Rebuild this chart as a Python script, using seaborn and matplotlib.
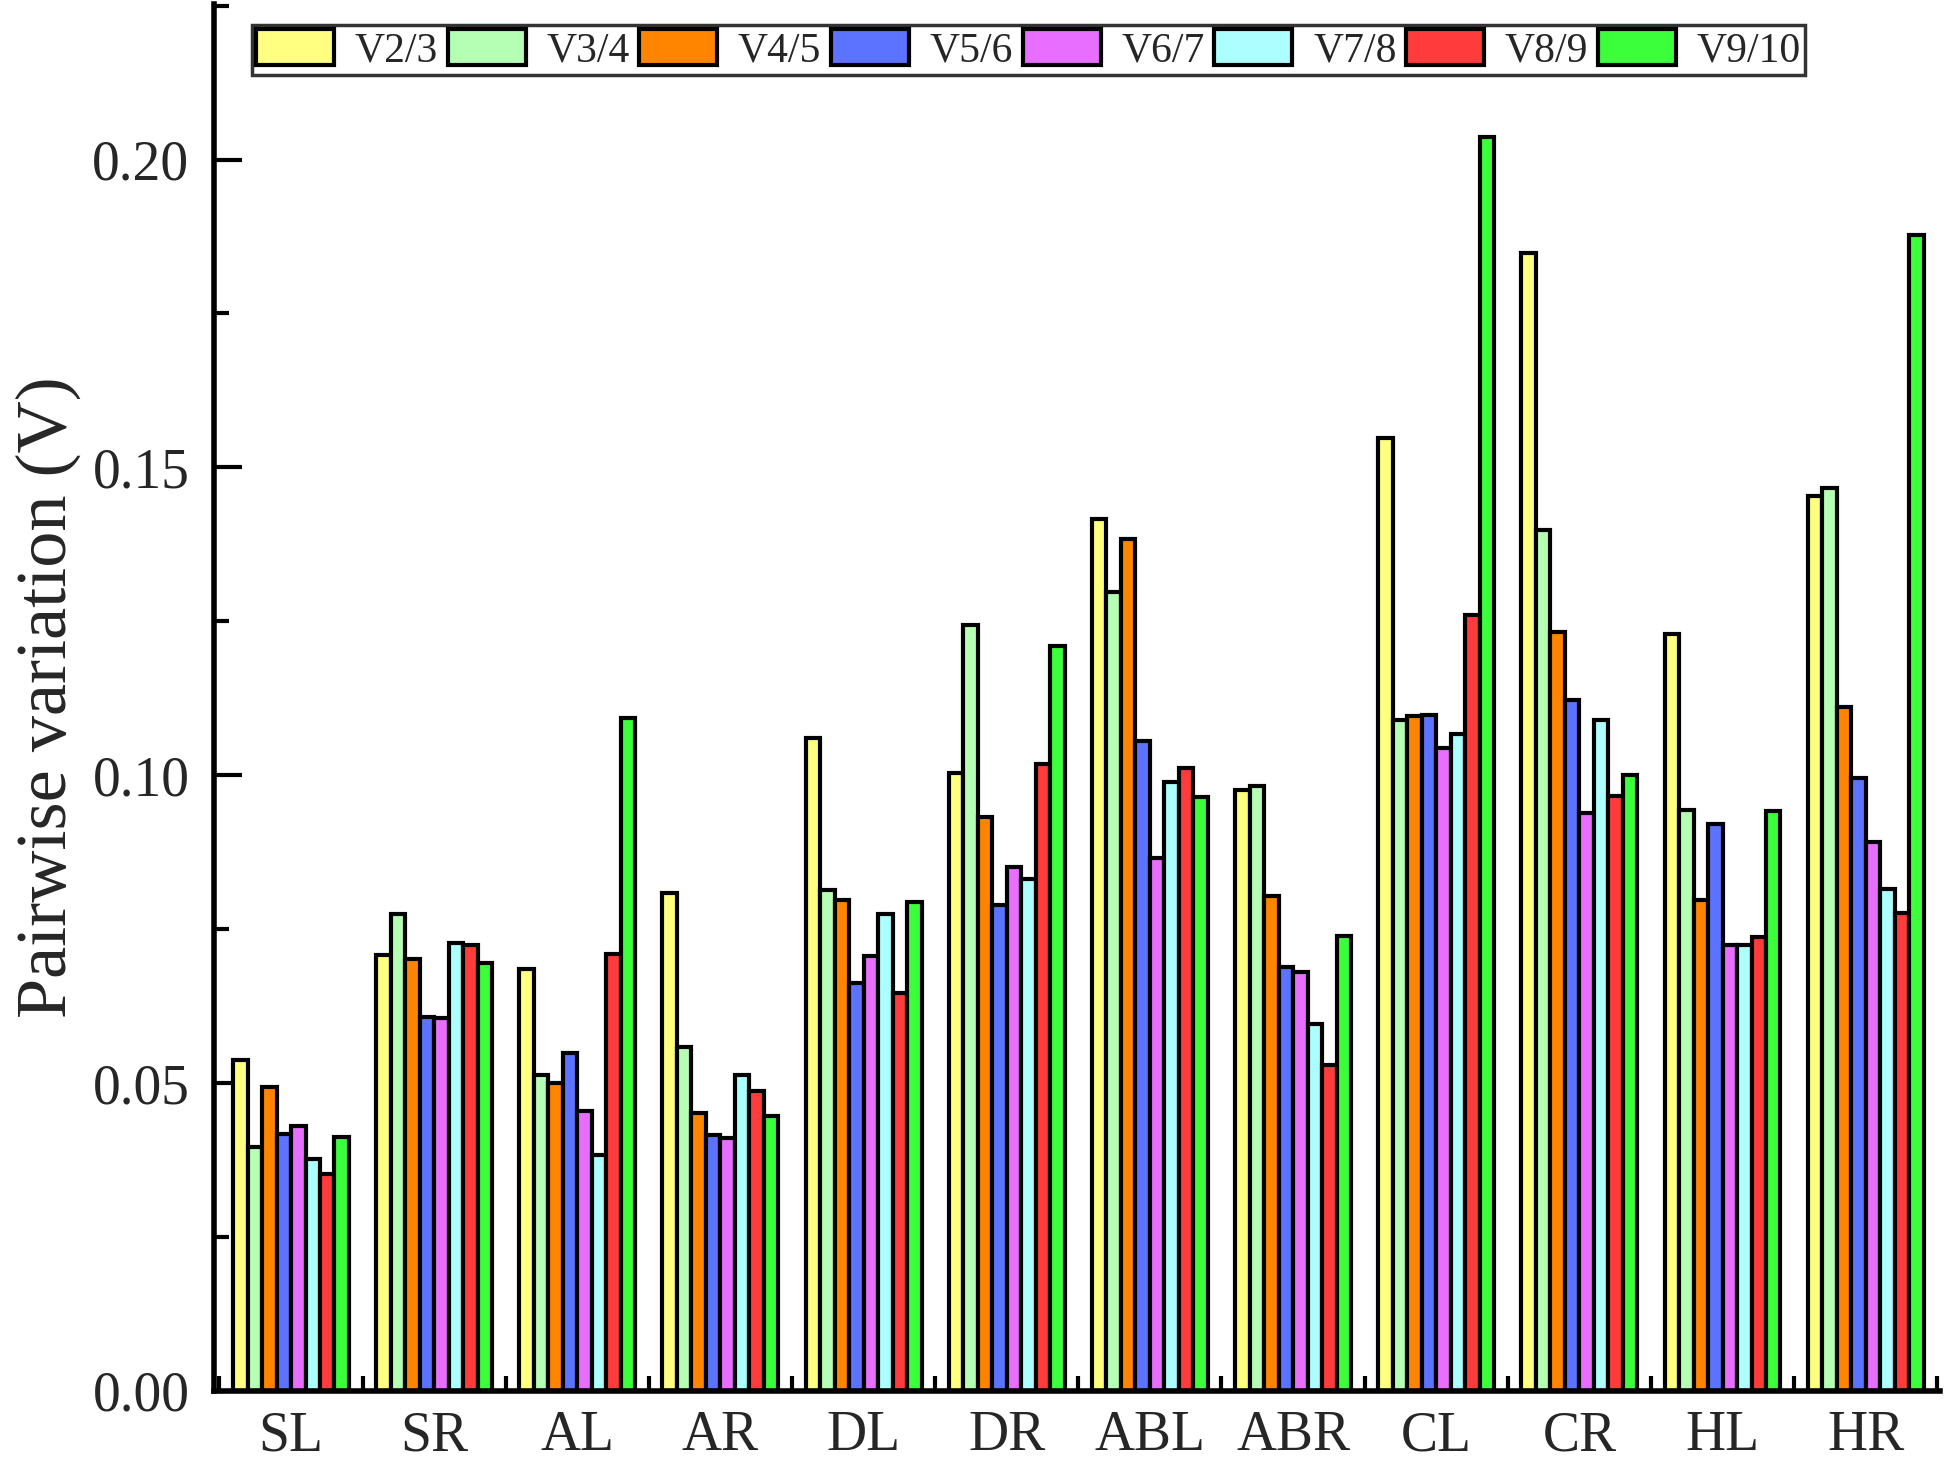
import numpy as np
import pandas as pd
import seaborn as sns
import matplotlib
matplotlib.use("Agg")
import matplotlib.pyplot as plt
from matplotlib.ticker import MultipleLocator, FixedLocator

categories = ["SL", "SR", "AL", "AR", "DL", "DR", "ABL", "ABR", "CL", "CR", "HL", "HR"]
series = ["V2/3", "V3/4", "V4/5", "V5/6", "V6/7", "V7/8", "V8/9", "V9/10"]

SL  = [0.0538, 0.0396, 0.0494, 0.0418, 0.0431, 0.0376, 0.0353, 0.0413]
SR  = [0.0708, 0.0774, 0.0701, 0.0608, 0.0606, 0.0727, 0.0725, 0.0695]
AL  = [0.0686, 0.0513, 0.0500, 0.0549, 0.0454, 0.0384, 0.0709, 0.1093]
AR  = [0.0809, 0.0559, 0.0451, 0.0416, 0.0410, 0.0513, 0.0487, 0.0447]
DL  = [0.1061, 0.0813, 0.0798, 0.0662, 0.0706, 0.0774, 0.0646, 0.0794]
DR  = [0.1004, 0.1244, 0.0932, 0.0789, 0.0851, 0.0832, 0.1019, 0.1210]
ABL = [0.1417, 0.1298, 0.1384, 0.1055, 0.0866, 0.0989, 0.1011, 0.0964]
ABR = [0.0976, 0.0982, 0.0804, 0.0689, 0.0680, 0.0596, 0.0529, 0.0739]
CL  = [0.1547, 0.1090, 0.1097, 0.1098, 0.1044, 0.1067, 0.1261, 0.2036]
CR  = [0.1849, 0.1399, 0.1232, 0.1123, 0.0939, 0.1090, 0.0966, 0.1001]
HL  = [0.1229, 0.0943, 0.0798, 0.0921, 0.0724, 0.0724, 0.0738, 0.0942]
HR  = [0.1454, 0.1466, 0.1111, 0.0995, 0.0891, 0.0815, 0.0776, 0.1878]

values = [SL, SR, AL, AR, DL, DR, ABL, ABR, CL, CR, HL, HR]
colors = ["#FFFF80", "#B5FFB5", "#FF8500", "#5B73FF", "#E86EFF", "#ADFFFF", "#FF3B3B", "#3CFF3C"]

rows = []
for c, vals in zip(categories, values):
    for s, v in zip(series, vals):
        rows.append({"cat": c, "series": s, "val": v})
df = pd.DataFrame(rows)

sns.set_style("ticks")
plt.rcParams["font.family"] = ["Liberation Serif", "DejaVu Serif"]

fig = plt.figure(figsize=(19.44, 14.68), dpi=100)
ax = fig.add_axes([0.1103, 0.0525, 0.8877, 0.9445])

sns.barplot(data=df, x="cat", y="val", hue="series", order=categories,
            hue_order=series, palette=colors, width=0.81, errorbar=None,
            edgecolor="black", linewidth=3.0, saturation=1, ax=ax, legend=True)

ax.set_xlim(-0.535, 11.52)
ax.set_ylim(0, 0.2252)

for side in ["top", "right"]:
    ax.spines[side].set_visible(False)
for side in ["left", "bottom"]:
    ax.spines[side].set_linewidth(4.0)
    ax.spines[side].set_color("black")

ax.set_yticks([0.0, 0.05, 0.10, 0.15, 0.20])
ax.set_yticklabels(["0.00", "0.05", "0.10", "0.15", "0.20"])
ax.yaxis.set_minor_locator(MultipleLocator(0.025))
ax.xaxis.set_minor_locator(FixedLocator(np.arange(-0.5, 12, 1.0)))

ax.tick_params(axis="both", which="major", direction="in", length=20, width=3, color="black")
ax.tick_params(axis="both", which="minor", direction="in", length=11, width=3, color="black")
ax.tick_params(axis="y", which="major", labelsize=40, pad=18)
ax.tick_params(axis="x", which="major", labelsize=40, pad=14)

ax.set_xlabel("")
ax.set_ylabel("Pairwise variation (V)", fontsize=52, labelpad=8)

handles, labels = ax.get_legend_handles_labels()
leg = ax.legend(handles, labels, ncol=8, loc="upper left",
                bbox_to_anchor=(0.0217, 0.985), borderaxespad=0,
                fontsize=30, frameon=True, fancybox=False, edgecolor="black",
                handlelength=1.87, handleheight=0.95, handletextpad=0.5,
                columnspacing=0.23, borderpad=0.1)
leg.get_frame().set_linewidth(2.5)
for h in leg.legend_handles:
    h.set_edgecolor("black")
    h.set_linewidth(3.0)

fig.savefig("out.png", dpi=100)
